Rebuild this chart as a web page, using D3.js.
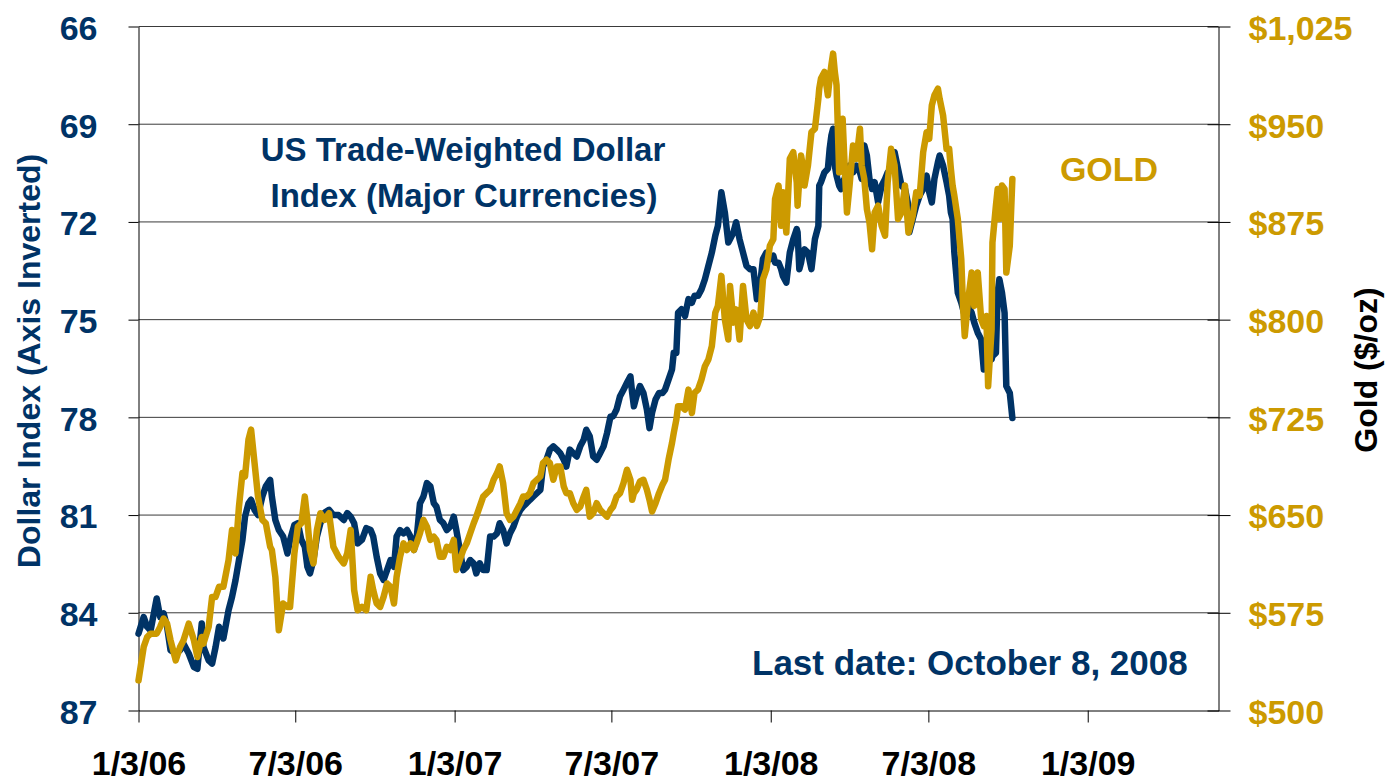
<!DOCTYPE html>
<html>
<head>
<meta charset="utf-8">
<script src="https://cdn.jsdelivr.net/npm/d3@7"></script>
<style>
  body { margin: 0; background: #fff; }
  svg { display: block; font-family: "Liberation Sans", Arial, sans-serif; font-weight: bold; }
</style>
</head>
<body>
<svg id="canvas" width="1385" height="783"></svg>
<script>
// sample dates, shared by both series
const sampleDates = [
  '2006-01-03','2006-01-09','2006-01-13','2006-01-17','2006-01-24','2006-01-28','2006-02-01','2006-02-05',
  '2006-02-09','2006-02-15','2006-02-20','2006-02-24','2006-03-02','2006-03-08','2006-03-12','2006-03-17',
  '2006-03-19','2006-03-25','2006-03-29','2006-04-02','2006-04-06','2006-04-11','2006-04-17','2006-04-21',
  '2006-04-25','2006-04-29','2006-05-03','2006-05-06','2006-05-10','2006-05-13','2006-05-17','2006-05-21',
  '2006-05-26','2006-05-30','2006-06-04','2006-06-06','2006-06-10','2006-06-14','2006-06-19','2006-06-24',
  '2006-06-27','2006-07-02','2006-07-06','2006-07-10','2006-07-14','2006-07-17','2006-07-20','2006-07-24',
  '2006-07-28','2006-08-01','2006-08-06','2006-08-11','2006-08-16','2006-08-22','2006-08-28','2006-09-01',
  '2006-09-05','2006-09-09','2006-09-13','2006-09-18','2006-09-23',
  '2006-09-28','2006-10-01','2006-10-05','2006-10-09','2006-10-13','2006-10-17','2006-10-21','2006-10-25',
  '2006-10-28','2006-11-01','2006-11-05','2006-11-09','2006-11-13','2006-11-17','2006-11-20','2006-11-24',
  '2006-11-28','2006-12-02','2006-12-06','2006-12-10','2006-12-13','2006-12-17','2006-12-21','2006-12-25',
  '2006-12-29','2007-01-02','2007-01-05','2007-01-09','2007-01-13','2007-01-17','2007-01-21','2007-01-25',
  '2007-01-28','2007-02-01','2007-02-05','2007-02-09','2007-02-13','2007-02-17','2007-02-21','2007-02-24',
  '2007-02-28','2007-03-04','2007-03-08','2007-03-12','2007-03-16','2007-03-20','2007-03-23','2007-03-27',
  '2007-03-31','2007-04-04','2007-04-08','2007-04-12','2007-04-15','2007-04-19','2007-04-23','2007-04-27',
  '2007-05-01','2007-05-05','2007-05-09','2007-05-12','2007-05-16','2007-05-20','2007-05-24','2007-05-28',
  '2007-06-01','2007-06-04','2007-06-08','2007-06-12','2007-06-16',
  '2007-06-20','2007-06-24','2007-06-28','2007-07-02','2007-07-05','2007-07-09','2007-07-13','2007-07-17',
  '2007-07-21','2007-07-25','2007-07-27','2007-07-29','2007-08-01','2007-08-05','2007-08-09','2007-08-13',
  '2007-08-16','2007-08-19','2007-08-23','2007-08-27','2007-08-31','2007-09-03','2007-09-07','2007-09-11',
  '2007-09-13','2007-09-16','2007-09-18','2007-09-22','2007-09-26','2007-09-30','2007-10-04','2007-10-07',
  '2007-10-11','2007-10-15','2007-10-19','2007-10-23','2007-10-27','2007-10-31','2007-11-03','2007-11-07',
  '2007-11-11','2007-11-15','2007-11-17','2007-11-21','2007-11-24','2007-11-28','2007-12-02','2007-12-06',
  '2007-12-10','2007-12-14','2007-12-18','2007-12-22','2007-12-25','2007-12-29','2008-01-02','2008-01-06',
  '2008-01-08','2008-01-12','2008-01-15','2008-01-17',
  '2008-01-21','2008-01-25','2008-01-29','2008-02-02','2008-02-03','2008-02-05','2008-02-07','2008-02-09',
  '2008-02-11','2008-02-15','2008-02-19','2008-02-23','2008-02-27','2008-02-28','2008-03-01','2008-03-05',
  '2008-03-09','2008-03-11','2008-03-13','2008-03-15','2008-03-17','2008-03-19','2008-03-22','2008-03-24',
  '2008-03-26','2008-03-28','2008-03-31','2008-04-03','2008-04-07','2008-04-11','2008-04-15','2008-04-17',
  '2008-04-20','2008-04-23','2008-04-26','2008-04-29','2008-05-02','2008-05-06','2008-05-10','2008-05-14',
  '2008-05-17','2008-05-21','2008-05-25','2008-05-29','2008-06-02','2008-06-06','2008-06-10','2008-06-11',
  '2008-06-15','2008-06-19','2008-06-23','2008-06-27','2008-07-01','2008-07-04','2008-07-07','2008-07-10',
  '2008-07-14','2008-07-16','2008-07-20','2008-07-24','2008-07-27','2008-07-29','2008-07-31','2008-08-02',
  '2008-08-06','2008-08-10','2008-08-12','2008-08-14','2008-08-18','2008-08-22','2008-08-25','2008-08-29',
  '2008-09-02','2008-09-05','2008-09-08','2008-09-10','2008-09-14','2008-09-15','2008-09-19','2008-09-21',
  '2008-09-23','2008-09-26','2008-09-29','2008-10-01','2008-10-05','2008-10-08'
];

// US trade-weighted dollar index (major currencies)
const dollarIndex = [
  84.64,84.13,84.43,84.54,83.56,84.13,84.02,84.43,85.15,85.25,85.15,84.95,85.25,85.67,85.72,84.33,
  85.05,85.46,85.56,85.05,84.43,84.79,83.92,83.51,83.00,82.38,81.76,81.05,80.64,80.53,80.84,81.00,
  80.43,80.12,79.92,80.43,81.15,81.46,81.66,82.18,81.76,81.30,81.25,81.76,81.97,82.59,82.79,82.38,
  81.66,81.25,80.92,80.84,81.00,81.00,81.15,80.94,81.05,81.25,81.87,81.76,81.40,
  81.46,81.66,82.28,82.79,82.99,82.69,82.38,82.59,81.66,81.46,81.56,81.46,81.66,82.07,81.76,80.64,
  80.43,80.02,80.12,80.64,80.74,81.15,81.25,81.46,81.35,81.05,81.46,82.07,82.69,82.59,82.38,82.48,
  82.79,82.48,82.69,82.69,81.66,81.66,81.56,81.25,81.46,81.87,81.56,81.35,81.05,80.84,80.74,80.64,
  80.53,80.43,80.33,80.23,79.51,79.30,78.99,78.89,78.99,79.10,79.30,79.51,78.99,79.10,79.20,78.89,
  78.69,78.38,78.58,79.20,79.30,
  79.10,78.89,78.48,77.97,77.97,77.76,77.35,77.15,76.94,76.74,77.25,77.66,77.35,77.04,77.25,77.76,
  78.33,77.86,77.45,77.25,77.25,77.15,76.84,76.53,76.02,76.02,74.79,74.68,74.89,74.37,74.48,74.27,
  74.27,74.07,73.76,73.35,72.94,72.42,72.12,71.09,71.71,72.63,72.53,72.32,72.01,72.53,72.94,73.35,
  73.45,73.45,74.37,73.86,73.14,72.94,73.14,73.04,73.25,73.25,73.45,73.66,
  73.86,72.94,72.53,72.22,72.32,73.45,73.25,72.94,72.84,72.94,73.45,72.53,72.12,70.89,70.78,70.48,
  70.37,69.76,69.35,69.14,70.27,70.58,70.89,70.99,70.78,70.68,70.48,70.27,70.48,70.27,70.48,70.68,
  69.65,69.96,70.68,70.99,70.78,71.40,70.89,70.68,70.48,70.37,69.86,70.37,70.89,70.99,71.50,72.32,
  71.91,71.50,71.19,70.99,70.58,71.09,71.40,70.68,70.17,69.96,70.27,70.78,71.19,71.71,71.91,72.94,
  74.17,74.48,74.68,74.89,74.58,74.79,75.09,75.40,75.61,76.53,75.81,76.12,76.22,76.12,76.02,74.17,
  73.76,74.17,74.79,77.04,77.25,78.02
];

// gold, $/oz
const goldPrice = [
  523.1,548.8,556.4,559.0,559.0,564.2,570.6,566.7,553.9,538.5,548.8,553.9,566.7,553.9,541.1,556.4,
  551.3,564.2,587.2,587.2,594.9,594.9,615.5,638.6,620.6,656.5,682.2,679.6,707.9,715.6,689.9,664.2,
  646.3,643.7,625.7,623.2,602.6,561.6,582.1,579.5,579.5,620.6,641.1,643.7,664.2,646.3,623.2,612.9,
  638.6,651.4,646.3,651.4,625.7,618.0,612.9,620.6,638.6,592.4,577.0,579.5,577.0,
  602.6,592.4,582.1,579.5,587.2,597.5,594.9,582.1,602.6,618.0,628.3,623.2,628.3,623.2,628.3,636.0,
  646.3,641.1,630.9,633.4,630.9,618.0,618.0,625.7,623.2,630.9,607.8,615.5,623.2,628.3,636.0,643.7,
  648.8,656.5,664.2,666.8,669.4,677.1,682.2,687.3,674.5,651.4,646.3,648.8,654.0,659.1,664.2,664.2,
  666.8,674.5,677.1,679.6,689.9,692.5,689.9,677.1,687.3,687.3,671.9,666.8,666.8,659.1,654.0,656.5,
  664.2,669.4,648.8,651.4,659.1,
  654.0,651.4,648.8,654.0,656.5,664.2,666.8,674.5,684.8,677.1,661.7,666.8,669.4,675.8,677.1,669.4,
  661.7,652.7,659.1,666.8,673.2,677.1,692.5,705.3,713.0,723.3,733.5,733.5,731.0,746.3,728.4,743.8,
  746.3,754.0,764.3,769.4,779.7,805.4,810.5,833.6,800.2,784.8,825.9,797.7,807.9,784.8,825.9,800.2,
  795.1,805.4,795.1,802.8,831.0,838.7,856.7,861.8,892.6,902.9,872.1,897.7,
  866.9,923.4,928.5,905.4,887.5,908.0,926.0,918.3,902.9,918.3,943.9,946.5,969.6,977.3,985.0,990.1,
  972.2,985.0,995.3,1004.2,990.1,979.9,913.1,949.1,954.2,923.4,882.3,902.9,933.7,923.4,946.5,918.3,
  908.0,884.9,874.6,854.1,882.3,887.5,872.1,864.4,905.4,931.1,918.3,877.2,882.3,902.9,866.9,869.5,
  879.8,897.7,895.2,928.5,943.9,938.8,964.5,972.2,977.3,969.6,956.8,931.1,931.1,915.7,902.9,895.2,
  877.2,846.4,810.5,787.4,815.6,836.2,810.5,836.2,800.2,795.1,802.8,748.9,792.5,859.2,887.5,900.3,
  877.2,902.9,900.3,836.2,856.7,908.0
];

const dollarTicks = [66, 69, 72, 75, 78, 81, 84, 87];
const goldTicks = [500, 575, 650, 725, 800, 875, 950, 1025];
const xTickDates = ['2006-01-03','2006-07-03','2007-01-03','2007-07-03','2008-01-03','2008-07-03','2009-01-03'];
const xTickLabels = ['1/3/06','7/3/06','1/3/07','7/3/07','1/3/08','7/3/08','1/3/09'];

const NAVY = '#003366';
const GOLD = '#CC9A00';

const parseDate = d3.timeParse('%Y-%m-%d');
const series = sampleDates.map((d, i) => ({ date: parseDate(d), dollar: dollarIndex[i], gold: goldPrice[i] }));

const plotLeft = 138.5, plotRight = 1218.5, plotTop = 26.5, plotBottom = 710.5;

const x = d3.scaleTime()
            .domain([parseDate('2006-01-03'), parseDate('2009-06-03')])
            .range([plotLeft, plotRight]);
const yDollar = d3.scaleLinear().domain([66, 87]).range([plotTop, plotBottom]);
const yGold = d3.scaleLinear().domain([500, 1025]).range([plotBottom, plotTop]);

const canvas = d3.select('#canvas');

// gridlines
canvas.append('g')
      .selectAll('line')
      .data(dollarTicks.slice(0, -1))
      .enter()
      .append('line')
      .attr('x1', plotLeft)
      .attr('x2', plotRight)
      .attr('y1', d => yDollar(d))
      .attr('y2', d => yDollar(d))
      .attr('stroke', '#3a3a3a')
      .attr('stroke-width', 1);

// left axis
const leftAxis = canvas.append('g')
      .attr('transform', 'translate(' + plotLeft + ',0)')
      .call(d3.axisLeft(yDollar).tickValues(dollarTicks).tickSize(10).tickSizeOuter(0).tickPadding(31));
leftAxis.select('.domain').attr('stroke', '#000');
leftAxis.selectAll('.tick line').attr('stroke', '#000');
leftAxis.selectAll('text')
        .attr('fill', NAVY)
        .attr('font-size', 34)
        .attr('font-weight', 'bold')
        .attr('font-family', '"Liberation Sans", Arial, sans-serif')
        .attr('dy', '0.38em');

// right axis
const rightAxis = canvas.append('g')
      .attr('transform', 'translate(' + plotRight + ',0)')
      .call(d3.axisRight(yGold).tickValues(goldTicks).tickFormat(d3.format('$,')).tickSize(12).tickSizeOuter(0).tickPadding(18));
rightAxis.select('.domain').attr('stroke', '#000');
rightAxis.selectAll('.tick line').attr('stroke', '#000').attr('x1', -11);
rightAxis.selectAll('text')
         .attr('fill', GOLD)
         .attr('font-size', 34)
         .attr('font-weight', 'bold')
         .attr('font-family', '"Liberation Sans", Arial, sans-serif')
         .attr('dy', '0.38em');

// bottom axis
const bottomAxis = canvas.append('g')
      .attr('transform', 'translate(0,' + plotBottom + ')')
      .call(d3.axisBottom(x)
              .tickValues(xTickDates.map(parseDate))
              .tickFormat((d, i) => xTickLabels[i])
              .tickSize(12).tickSizeOuter(0).tickPadding(28));
bottomAxis.select('.domain').attr('stroke', '#000');
bottomAxis.selectAll('.tick line').attr('stroke', '#000');
bottomAxis.selectAll('text')
          .attr('fill', '#000')
          .attr('font-size', 34)
          .attr('font-weight', 'bold')
          .attr('font-family', '"Liberation Sans", Arial, sans-serif');

// lines
const dollarLine = d3.line().x(d => x(d.date)).y(d => yDollar(d.dollar));
const goldLine = d3.line().x(d => x(d.date)).y(d => yGold(d.gold));

canvas.append('path')
      .datum(series)
      .attr('d', dollarLine)
      .attr('fill', 'none')
      .attr('stroke', NAVY)
      .attr('stroke-width', 6.5)
      .attr('stroke-linejoin', 'round')
      .attr('stroke-linecap', 'round');

canvas.append('path')
      .datum(series)
      .attr('d', goldLine)
      .attr('fill', 'none')
      .attr('stroke', GOLD)
      .attr('stroke-width', 6.5)
      .attr('stroke-linejoin', 'round')
      .attr('stroke-linecap', 'round');

// axis titles
canvas.append('text')
      .attr('transform', 'translate(40,361) rotate(-90)')
      .attr('text-anchor', 'middle')
      .attr('fill', NAVY)
      .attr('font-size', 32)
      .text('Dollar Index (Axis Inverted)');

canvas.append('text')
      .attr('transform', 'translate(1377,370) rotate(-90)')
      .attr('text-anchor', 'middle')
      .attr('fill', '#000')
      .attr('font-size', 32)
      .text('Gold ($/oz)');

// annotations
const label = canvas.append('text')
      .attr('text-anchor', 'middle')
      .attr('fill', NAVY)
      .attr('font-size', 33);
label.append('tspan').attr('x', 463).attr('y', 161).text('US Trade-Weighted Dollar');
label.append('tspan').attr('x', 464).attr('y', 207).text('Index (Major Currencies)');

canvas.append('text')
      .attr('x', 1109)
      .attr('y', 181)
      .attr('text-anchor', 'middle')
      .attr('fill', GOLD)
      .attr('font-size', 34)
      .text('GOLD');

canvas.append('text')
      .attr('x', 752)
      .attr('y', 675)
      .attr('fill', NAVY)
      .attr('font-size', 35)
      .text('Last date: October 8, 2008');
</script>
</body>
</html>
